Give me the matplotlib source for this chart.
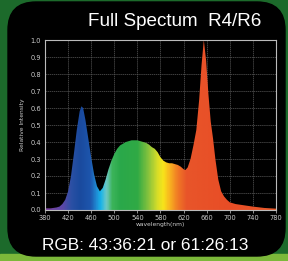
import numpy as np
import matplotlib
matplotlib.use('Agg')
import matplotlib.pyplot as plt
from matplotlib.patches import FancyBboxPatch, Rectangle
from matplotlib.colors import LinearSegmentedColormap

# spectrum
wavelength = [380, 390, 400, 405, 410, 415, 420, 425, 430, 435, 440, 443, 446, 450,
              455, 460, 465, 470, 475, 480, 485, 490, 495, 500, 505, 510, 520, 530,
              540, 550, 555, 560, 565, 570, 575, 580, 585, 590, 595, 600, 605, 610,
              615, 620, 623, 627, 632, 637, 642, 647, 651, 655, 659, 663, 667, 671,
              675, 680, 685, 690, 695, 700, 710, 720, 740, 760, 780]
intensity = [0.01, 0.01, 0.015, 0.02, 0.035, 0.06, 0.11, 0.2, 0.33, 0.47, 0.58, 0.61, 0.6, 0.53,
             0.42, 0.31, 0.21, 0.14, 0.11, 0.13, 0.18, 0.24, 0.29, 0.33, 0.36, 0.38, 0.4, 0.41,
             0.41, 0.4, 0.395, 0.385, 0.37, 0.36, 0.34, 0.31, 0.29, 0.28, 0.275, 0.275, 0.27, 0.265,
             0.255, 0.24, 0.235, 0.25, 0.3, 0.38, 0.47, 0.65, 0.85, 1.0, 0.88, 0.68, 0.52, 0.42,
             0.3, 0.18, 0.11, 0.08, 0.06, 0.045, 0.035, 0.03, 0.02, 0.012, 0.008]
xticks = [380, 420, 460, 500, 540, 580, 620, 660, 700, 740, 780]
yticks = [0.0, 0.1, 0.2, 0.3, 0.4, 0.5, 0.6, 0.7, 0.8, 0.9, 1.0]
title = 'Full Spectum  R4/R6'
caption = 'RGB: 43:36:21 or 61:26:13'

# colour stops along the wavelength axis
stops = [(380, '#7a3f9a'), (410, '#5a48a8'), (425, '#2a50a4'), (440, '#1a4a9e'),
         (458, '#1d56ad'), (468, '#1f88d2'), (476, '#18b4ea'), (486, '#6ec8c4'),
         (496, '#3cb45a'), (510, '#2aa84a'), (540, '#30aa45'), (560, '#8cc43c'),
         (575, '#d8de28'), (585, '#f8e41a'), (597, '#f8b020'), (610, '#f07a25'),
         (625, '#e8552a'), (700, '#e84d26'), (780, '#e85a2a')]
cmap = LinearSegmentedColormap.from_list(
    'spec', [((w - 380) / 400, c) for w, c in stops])

fig = plt.figure(figsize=(2.88, 2.61), dpi=100)
fig.patch.set_facecolor('#1c6a2b')

# background: green with black rounded panel
bg = fig.add_axes([0, 0, 1, 1])
bg.set_xlim(0, 288)
bg.set_ylim(261, 0)
bg.axis('off')
bg.add_patch(Rectangle((0, 254), 288, 7, color='#7cb83a'))
bg.add_patch(FancyBboxPatch((8, 2), 277, 254, boxstyle='round,pad=0,rounding_size=28',
                            color='black'))

ax = fig.add_axes([45 / 288, 1 - 210 / 261, 231 / 288, 170 / 261])
ax.set_facecolor('black')
ax.set_xlim(380, 780)
ax.set_ylim(0, 1)

poly = ax.fill_between(wavelength, intensity, 0, color='none', lw=0)
grad = np.linspace(0, 1, 400).reshape(1, -1)
im = ax.imshow(grad, cmap=cmap, extent=[380, 780, 0, 1], aspect='auto', zorder=2)
im.set_clip_path(poly.get_paths()[0], transform=ax.transData)

ax.set_xticks(xticks)
ax.set_yticks(yticks)
ax.set_yticklabels([f'{v:.1f}' for v in yticks])
ax.grid(True, color='#5a5a5a', lw=0.5, linestyle=(0, (2, 1)))
ax.set_axisbelow(True)
ax.tick_params(axis='x', colors='#cccccc', labelsize=4.8, length=2, width=0.5, pad=1.5)
ax.tick_params(axis='y', colors='#cccccc', labelsize=4.8, length=0, pad=3)
for s in ax.spines.values():
    s.set_color('#bbbbbb')
    s.set_linewidth(0.8)
ax.set_xlabel('wavelength(nm)', color='#cccccc', fontsize=4.3, labelpad=1)
ax.set_ylabel('Relative Intensity', color='#cccccc', fontsize=4.3, labelpad=4)

# fit big texts to the widths seen in the picture
renderer = fig.canvas.get_renderer()
def fit_text(s, x0, width, yc):
    t = bg.text(x0 + width / 2, yc, s, color='white', fontsize=12,
                family='Liberation Sans', ha='center', va='center')
    w = t.get_window_extent(renderer).width
    t.set_fontsize(12 * width / w)
    return t

fit_text(title, 88, 174, 21)
fit_text(caption, 43, 205, 246)

fig.savefig('out.png', dpi=100, facecolor=fig.get_facecolor())
